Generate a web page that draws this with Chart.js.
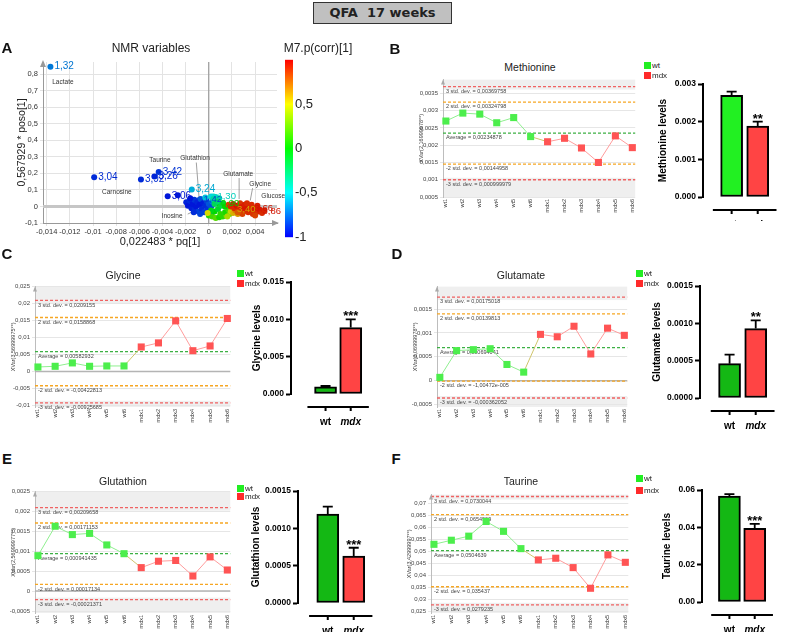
<!DOCTYPE html>
<html>
<head>
<meta charset="utf-8">
<script src="https://cdn.jsdelivr.net/npm/chart.js@4.4.0/dist/chart.umd.min.js"></script>
<style>
  html, body { margin: 0; padding: 0; background: #fff; }
  #page { position: relative; width: 789px; height: 632px; overflow: hidden; background: #fff;
          font-family: "Liberation Sans", Arial, sans-serif; color: #222; }
  #page canvas { position: absolute; }
  .txt { position: absolute; white-space: pre; line-height: 1; }
  #headline { position: absolute; left: 313px; top: 2px; width: 139px; height: 22px; box-sizing: border-box;
              background: #c0c0c0; border: 1.5px solid #333; font: bold 13px "DejaVu Sans", Verdana, sans-serif;
              color: #222; text-align: center; line-height: 19px; white-space: pre; }
  .sq { position: absolute; width: 7px; height: 7px; }
</style>
</head>
<body>
<div id="page"><div id="headline">QFA  17 weeks</div></div>
<script>
// ---- data ----
const samples = ["wt1", "wt2", "wt3", "wt4", "wt5", "wt6", "mdx1", "mdx2", "mdx3", "mdx4", "mdx5", "mdx6"];
const sampleGroups = ["wt", "wt", "wt", "wt", "wt", "wt", "mdx", "mdx", "mdx", "mdx", "mdx", "mdx"];
const groups = ["wt", "mdx"];
const limitNames = ["3 std. dev.", "2 std. dev.", "Average", "-2 std. dev.", "-3 std. dev."];

const methionineValues = [0.0027, 0.00293, 0.0029, 0.00265, 0.0028, 0.00225, 0.0021, 0.0022, 0.00192, 0.0015, 0.00227, 0.00193];
const methionineLimits = [0.00369758, 0.00324798, 0.00234878, 0.00144958, 0.000999979];
const methionineMeans = [0.0027, 0.00188];
const methionineSem = [0.0001, 0.00012];

const glycineValues = [0.0013, 0.0015, 0.0025, 0.0015, 0.0016, 0.0016, 0.0072, 0.0084, 0.0149, 0.0061, 0.0075, 0.0156];
const glycineLimits = [0.0209155, 0.0158868, 0.00582932, -0.00422813, -0.00925685];
const glycineMeans = [0.00095, 0.0089];
const glycineSem = [0.00012, 0.0011];

const glutamateValues = [0.00007, 0.00063, 0.00065, 0.00067, 0.00034, 0.00018, 0.00097, 0.00092, 0.00114, 0.00056, 0.0011, 0.00095];
const glutamateLimits = [0.00175018, 0.00139813, 0.000694041, -0.0000100472, -0.000362052];
const glutamateMeans = [0.00046, 0.00093];
const glutamateSem = [0.00012, 0.00011];

const glutathionValues = [0.00089, 0.00163, 0.00142, 0.00145, 0.00116, 0.00094, 0.00059, 0.00075, 0.00077, 0.00038, 0.00086, 0.00053];
const glutathionLimits = [0.00209658, 0.00171153, 0.000941435, 0.00017134, -0.00021371];
const glutathionMeans = [0.00119, 0.00063];
const glutathionSem = [0.0001, 0.00011];

const taurineValues = [0.0531, 0.0548, 0.0565, 0.0626, 0.0585, 0.0513, 0.0466, 0.0473, 0.0434, 0.0348, 0.0487, 0.0456];
const taurineLimits = [0.0730044, 0.0654909, 0.0504639, 0.035437, 0.0279235];
const taurineMeans = [0.0567, 0.0395];
const taurineSem = [0.0011, 0.0024];

// NMR loading plot: labelled shifts
const shiftLabels = ["1,32", "3,04", "3,92", "3,26", "3,42", "3,06", "3,24", "1,42", "1,30", "0,90", "3,40", "3,66", "3,86"];
const shiftX = [-0.01368, -0.0099, -0.00586, -0.0047, -0.00433, -0.00355, -0.00147, -0.0008, 0.0004, 0.0007, 0.0021, 0.0036, 0.0043];
const shiftY = [0.846, 0.177, 0.163, 0.181, 0.208, 0.062, 0.103, 0.04, 0.06, 0.02, -0.02, -0.01, -0.03];
const shiftCorr = [-0.72, -0.9, -0.9, -0.92, -0.88, -0.95, -0.6, -0.85, -0.45, 0.0, 0.6, 0.95, 0.95];
// remaining variables of the cluster: [x, y, corr]
const clusterPoints = [
  [-0.00268, 0.068, -0.95], [-0.00195, 0.025, -0.92], [-0.0018, 0.005, -0.95], [-0.00165, 0.035, -0.9],
  [-0.0015, -0.01, -0.93], [-0.0014, 0.015, -0.95], [-0.00125, 0.04, -0.88], [-0.0012, -0.02, -0.9],
  [-0.0011, 0.0, -0.95], [-0.001, 0.025, -0.92], [-0.0009, -0.03, -0.85], [-0.0008, 0.01, -0.95],
  [-0.0007, 0.045, -0.8], [-0.0006, -0.015, -0.9], [-0.0005, 0.02, -0.93], [-0.0004, -0.035, -0.85],
  [-0.0003, 0.005, -0.9], [-0.0002, 0.035, -0.85], [-0.0001, -0.02, -0.88], [0.0, 0.015, -0.8],
  [0.0001, -0.04, -0.75], [0.0002, 0.0, -0.82], [0.0003, 0.03, -0.7], [-0.0016, 0.05, -0.95],
  [-0.0013, -0.035, -0.9], [-0.00075, -0.045, -0.85],
  [-0.0003, 0.055, -0.55], [0.0002, 0.06, -0.5], [0.0006, 0.058, -0.45], [0.0009, 0.05, -0.4], [0.0004, 0.045, -0.35],
  [0.0, -0.055, 0.1], [0.0003, -0.06, 0.15], [0.0006, -0.07, 0.2], [0.0009, -0.065, 0.05], [0.0012, -0.06, 0.1],
  [0.0015, -0.055, 0.2], [0.0005, -0.03, 0.0], [0.0008, -0.015, -0.1], [0.0011, 0.005, -0.15], [0.0014, -0.035, 0.05],
  [0.0017, -0.02, 0.15], [0.0005, 0.015, -0.2], [0.0008, 0.03, -0.25], [0.0012, 0.02, -0.1], [0.0018, -0.045, 0.25],
  [0.0002, -0.025, -0.05], [0.0014, 0.0, 0.0], [0.001, -0.045, 0.1],
  [-0.0001, -0.04, 0.5], [0.0019, -0.03, 0.45], [0.0021, -0.04, 0.6], [0.0023, -0.025, 0.7], [0.0025, -0.045, 0.65],
  [0.0016, -0.06, 0.4],
  [0.0017, 0.01, 0.85], [0.0019, 0.0, 0.9], [0.0021, 0.015, 0.95], [0.0022, -0.01, 0.9], [0.0024, 0.005, 0.95],
  [0.0026, -0.02, 0.92], [0.0027, 0.02, 0.88], [0.0028, -0.005, 0.95], [0.003, -0.03, 0.9], [0.0031, 0.01, 0.93],
  [0.0032, -0.015, 0.95], [0.0034, -0.035, 0.9], [0.0035, 0.0, 0.95], [0.0036, -0.02, 0.92], [0.0038, -0.045, 0.88],
  [0.0039, -0.01, 0.95], [0.0041, -0.03, 0.9], [0.0042, 0.005, 0.93], [0.0044, -0.02, 0.95], [0.0046, -0.04, 0.9],
  [0.0048, -0.025, 0.92], [0.0029, -0.045, 0.85], [0.0033, 0.02, 0.9], [0.0037, 0.01, 0.9], [0.004, -0.055, 0.85],
  [0.0025, -0.035, 0.8]
];
const noteNames = ["Lactate", "Carnosine", "Taurine", "Glutathion", "Glutamate", "Glycine", "Glucose", "Inosine"];
const noteX = [-0.0126, -0.00794, -0.00422, -0.00119, 0.00254, 0.00444, 0.00557, -0.00317];
const noteY = [0.755, 0.089, 0.283, 0.295, 0.198, 0.137, 0.065, -0.056];
// leader lines [x1, y1, x2, y2]
const noteLeaders = [
  [-0.00108, 0.266, -0.00084, 0.051], [0.00262, 0.172, 0.00262, 0.045],
  [0.00378, 0.111, 0.00358, 0.036], [-0.00182, -0.046, -0.00104, -0.02]
];

// ---- helpers ----
const FAMILY = '"Liberation Sans", Arial, sans-serif';
Chart.defaults.font.family = FAMILY;
Chart.defaults.animation = false;
Chart.defaults.responsive = false;
Chart.defaults.devicePixelRatio = 1;
const page = document.getElementById("page");

function addCanvas(left, top, width, height) {
  const c = document.createElement("canvas");
  c.width = width; c.height = height;
  c.style.left = left + "px"; c.style.top = top + "px";
  c.style.width = width + "px"; c.style.height = height + "px";
  page.appendChild(c);
  return c;
}
function addText(text, x, y, css, anchor) {
  const d = document.createElement("div");
  d.className = "txt";
  d.textContent = text;
  Object.assign(d.style, css || {});
  d.style.left = x + "px";
  d.style.top = y + "px";
  d.style.transform = anchor === "left" ? "translate(0,-50%)" : "translate(-50%,-50%)";
  page.appendChild(d);
  return d;
}
function comma(v) {
  return String(Number(v.toPrecision(10))).replace(".", ",");
}
function simcaNum(v) {
  if (v !== 0 && Math.abs(v) < 1e-4) {
    const [m, e] = v.toExponential().split("e");
    const ev = Math.abs(parseInt(e, 10));
    return m.replace(".", ",") + "e" + (e[0] === "-" ? "-" : "+") + String(ev).padStart(3, "0");
  }
  return comma(v);
}
const corrStops = [[-1, [0, 0, 255]], [-0.5, [0, 255, 255]], [0, [0, 255, 0]], [0.5, [255, 255, 0]], [1, [255, 0, 0]]];
function corrColor(c, k) {
  k = k || 1;
  let i = 0;
  while (i < corrStops.length - 2 && c > corrStops[i + 1][0]) i++;
  const [v0, a] = corrStops[i], [v1, b] = corrStops[i + 1];
  const t = Math.max(0, Math.min(1, (c - v0) / (v1 - v0)));
  const rgb = a.map((ch, j) => Math.round((ch + (b[j] - ch) * t) * k));
  return "rgb(" + rgb.join(",") + ")";
}

// ---- panel A: NMR loading plot ----
const nmrPlugin = {
  id: "nmr",
  beforeDatasetsDraw(chart) {
    const { ctx, chartArea: a, scales: { x, y } } = chart;
    ctx.save();
    ctx.strokeStyle = "#c6c6c6"; ctx.lineWidth = 3;
    ctx.beginPath(); ctx.moveTo(a.left, y.getPixelForValue(0)); ctx.lineTo(a.right, y.getPixelForValue(0)); ctx.stroke();
    ctx.strokeStyle = "#8a8a8a"; ctx.lineWidth = 1;
    ctx.beginPath(); ctx.moveTo(x.getPixelForValue(0), a.top); ctx.lineTo(x.getPixelForValue(0), a.bottom); ctx.stroke();
    ctx.fillStyle = "#999";
    ctx.beginPath(); ctx.moveTo(a.right + 2, a.bottom); ctx.lineTo(a.right - 5, a.bottom - 3); ctx.lineTo(a.right - 5, a.bottom + 3); ctx.fill();
    ctx.beginPath(); ctx.moveTo(a.left, a.top - 2); ctx.lineTo(a.left - 3, a.top + 5); ctx.lineTo(a.left + 3, a.top + 5); ctx.fill();
    ctx.strokeStyle = "#888"; ctx.lineWidth = 0.8;
    noteLeaders.forEach(l => {
      ctx.beginPath();
      ctx.moveTo(x.getPixelForValue(l[0]), y.getPixelForValue(l[1]));
      ctx.lineTo(x.getPixelForValue(l[2]), y.getPixelForValue(l[3]));
      ctx.stroke();
    });
    ctx.fillStyle = "#333"; ctx.font = "6.5px " + FAMILY; ctx.textAlign = "center"; ctx.textBaseline = "middle";
    noteNames.forEach((n, i) => ctx.fillText(n, x.getPixelForValue(noteX[i]), y.getPixelForValue(noteY[i])));
    ctx.restore();
  },
  afterDatasetsDraw(chart) {
    const { ctx, scales: { x, y } } = chart;
    ctx.save();
    ctx.textAlign = "left"; ctx.textBaseline = "middle";
    shiftLabels.forEach((s, i) => {
      ctx.font = (i < 7 ? "10px " : "9.5px ") + FAMILY;
      ctx.fillStyle = corrColor(shiftCorr[i], 0.82);
      ctx.fillText(s, x.getPixelForValue(shiftX[i]) + 4, y.getPixelForValue(shiftY[i]));
    });
    ctx.restore();
  }
};
new Chart(addCanvas(0, 52, 289, 198), {
  type: "scatter",
  data: {
    datasets: [
      { data: clusterPoints.map(p => ({ x: p[0], y: p[1] })),
        pointBackgroundColor: clusterPoints.map(p => corrColor(p[2], 0.85)),
        pointBorderWidth: 0, pointRadius: 3 },
      { data: shiftX.map((v, i) => ({ x: v, y: shiftY[i] })),
        pointBackgroundColor: shiftCorr.map(c => corrColor(c, 0.85)),
        pointBorderWidth: 0, pointRadius: 3 }
    ]
  },
  options: {
    layout: { padding: { left: 0, top: 10, right: 12, bottom: 0 } },
    plugins: { legend: { display: false }, tooltip: { enabled: false } },
    scales: {
      x: { type: "linear", min: -0.01432, max: 0.00589,
           afterFit: s => { s.height = 27; },
           ticks: { stepSize: 0.002, includeBounds: false, callback: v => comma(v), font: { size: 7.5 }, color: "#333", padding: 1, maxRotation: 0 },
           grid: { color: "#e3e3e3", tickLength: 3 }, border: { color: "#999" },
           title: { display: true, text: "0,022483 * pq[1]", font: { size: 11 }, color: "#222", padding: { top: 0, bottom: 1 } } },
      y: { min: -0.1, max: 0.8745,
           afterFit: s => { s.width = 43; },
           ticks: { stepSize: 0.1, includeBounds: false, callback: v => comma(v), font: { size: 7.5 }, color: "#333", padding: 2 },
           grid: { color: "#e3e3e3", tickLength: 3 }, border: { color: "#999" },
           title: { display: true, text: "0,567929 * poso[1]", font: { size: 10.5 }, color: "#222", padding: { top: 16, bottom: 0 } } }
    }
  },
  plugins: [nmrPlugin]
});

// colour scale
const colorbarPlugin = {
  id: "colorbar",
  beforeDraw(chart) {
    const { ctx, chartArea: a, scales: { y } } = chart;
    const g = ctx.createLinearGradient(0, y.getPixelForValue(-1), 0, y.getPixelForValue(1));
    corrStops.forEach(([v, rgb]) => g.addColorStop((v + 1) / 2, "rgb(" + rgb.join(",") + ")"));
    ctx.save(); ctx.fillStyle = g; ctx.fillRect(a.left, a.top, a.width, a.height); ctx.restore();
  }
};
new Chart(addCanvas(285, 50, 48, 197), {
  type: "scatter",
  data: { datasets: [] },
  options: {
    layout: { padding: { top: 6, bottom: 8, left: 0, right: 0 } },
    plugins: { legend: { display: false }, tooltip: { enabled: false } },
    scales: {
      x: { display: false, min: 0, max: 1 },
      y: { position: "right", min: -1, max: 1,
           afterFit: s => { s.width = 40; },
           ticks: { stepSize: 0.5, callback: v => (v < 1 ? comma(v) : null), font: { size: 13 }, color: "#222", padding: 2 },
           grid: { display: false, drawTicks: false }, border: { display: false } }
    }
  },
  plugins: [colorbarPlugin]
});

// ---- control charts ----
const limitColors = ["#f06262", "#f6a623", "#3cb043", "#f6a623", "#f06262"];
const controlPlugin = {
  id: "control",
  beforeDraw(chart, args, o) {
    const { ctx, chartArea: a, scales: { y } } = chart;
    const yTop = y.getPixelForValue(o.limits[0]) + 3;
    const yBot = y.getPixelForValue(o.limits[4]) - 2;
    ctx.save();
    ctx.fillStyle = "#efefef";
    ctx.fillRect(a.left, a.top, a.width, Math.max(0, yTop - a.top));
    ctx.fillRect(a.left, yBot, a.width, Math.max(0, a.bottom - yBot));
    ctx.restore();
  },
  beforeDatasetsDraw(chart, args, o) {
    const { ctx, chartArea: a, scales: { y } } = chart;
    ctx.save();
    if (y.min < 0 && y.max > 0) {
      ctx.strokeStyle = "#b4b4b4"; ctx.lineWidth = 1.5;
      ctx.beginPath(); ctx.moveTo(a.left, y.getPixelForValue(0)); ctx.lineTo(a.right, y.getPixelForValue(0)); ctx.stroke();
    }
    ctx.lineWidth = 1.3; ctx.setLineDash([3, 2]);
    o.limits.forEach((v, i) => {
      const py = y.getPixelForValue(v);
      ctx.strokeStyle = limitColors[i];
      ctx.beginPath(); ctx.moveTo(a.left, py); ctx.lineTo(a.right, py); ctx.stroke();
    });
    ctx.setLineDash([]);
    ctx.fillStyle = "#444"; ctx.font = "5.5px " + FAMILY; ctx.textAlign = "left"; ctx.textBaseline = "top";
    o.limits.forEach((v, i) => {
      ctx.fillText(limitNames[i] + " = " + simcaNum(v), a.left + 3, y.getPixelForValue(v) + 2);
    });
    ctx.fillStyle = "#aaa";
    ctx.beginPath(); ctx.moveTo(a.left, a.top); ctx.lineTo(a.left - 2, a.top + 5); ctx.lineTo(a.left + 2, a.top + 5); ctx.fill();
    ctx.restore();
  }
};
function controlChart(area, values, limits, yMin, yMax, step, yTitle) {
  const padL = 40, padT = 4, padR = 3, padB = 22;
  const canvas = addCanvas(area.l - padL, area.t - padT, area.r - area.l + padL + padR, area.b - area.t + padT + padB);
  new Chart(canvas, {
    type: "line",
    data: {
      datasets: [{
        data: values.map((v, i) => ({ x: i, y: v })),
        borderWidth: 1, tension: 0, clip: 8,
        pointStyle: "rect", pointRadius: 5, pointBorderWidth: 0,
        pointBackgroundColor: sampleGroups.map(g => (g === "wt" ? "#4cee4c" : "#ff5454")),
        segment: {
          borderColor: c => {
            const g0 = sampleGroups[c.p0DataIndex], g1 = sampleGroups[c.p1DataIndex];
            return g0 !== g1 ? "#cfc46c" : (g0 === "wt" ? "#8fef8f" : "#ff9c9c");
          }
        }
      }]
    },
    options: {
      layout: { padding: { left: 0, top: padT, right: padR, bottom: 0 } },
      plugins: { legend: { display: false }, tooltip: { enabled: false }, control: { limits: limits } },
      scales: {
        x: { type: "linear", min: -0.17, max: 11.17,
             afterBuildTicks: s => { s.ticks = samples.map((n, i) => ({ value: i })); },
             afterFit: s => { s.height = padB; },
             ticks: { callback: v => samples[v], autoSkip: false, minRotation: 90, maxRotation: 90, font: { size: 5.5 }, color: "#444", padding: 2 },
             grid: { display: false, drawTicks: false }, border: { display: false } },
        y: { min: yMin, max: yMax,
             afterFit: s => { s.width = padL; },
             ticks: { stepSize: step, includeBounds: false, callback: v => comma(v), font: { size: 6 }, color: "#444", padding: 2 },
             grid: { color: "#e6e6e6", tickLength: 3 }, border: { color: "#bdbdbd" },
             title: { display: true, text: yTitle, font: { size: 5.5 }, color: "#444", padding: { top: 15, bottom: 0 } } }
      }
    },
    plugins: [controlPlugin]
  });
}

// ---- bar charts ----
const barPlugin = {
  id: "barExtras",
  afterDatasetsDraw(chart, args, o) {
    const { ctx, chartArea: a, scales: { x, y } } = chart;
    ctx.save();
    ctx.strokeStyle = "#000"; ctx.fillStyle = "#000"; ctx.lineWidth = 1.8;
    o.means.forEach((m, i) => {
      const px = x.getPixelForValue(i + 1);
      const y0 = y.getPixelForValue(m), y1 = y.getPixelForValue(m + o.sems[i]);
      ctx.beginPath(); ctx.moveTo(px, y0); ctx.lineTo(px, y1); ctx.moveTo(px - 5, y1); ctx.lineTo(px + 5, y1); ctx.stroke();
      if (o.sig[i]) {
        ctx.font = "bold 13px " + FAMILY; ctx.textAlign = "center"; ctx.textBaseline = "alphabetic";
        ctx.fillText(o.sig[i], px, y1 + 1);
      }
    });
    const ly = a.bottom + 13;
    ctx.lineWidth = 2;
    ctx.beginPath();
    ctx.moveTo(x.getPixelForValue(0.28), ly); ctx.lineTo(x.getPixelForValue(2.72), ly);
    groups.forEach((g, i) => { const px = x.getPixelForValue(i + 1); ctx.moveTo(px, ly); ctx.lineTo(px, ly + 4); });
    ctx.stroke();
    ctx.restore();
  }
};
function barChart(p, means, sems, sig, yMax, step, decimals, yTitle, wtColor) {
  const left = p.titleX - 6, top = p.top - 8;
  const padL = p.axisX - left;
  const xMin = 1 - (p.c1 - p.axisX) / p.s, xMax = 2.75;
  const right = p.axisX + (xMax - xMin) * p.s;
  const padB = p.padB || 34;
  new Chart(addCanvas(left, top, Math.round(right - left), Math.round(p.bottom + padB - top)), {
    type: "bar",
    data: {
      datasets: [{
        data: means.map((m, i) => ({ x: i + 1, y: m })),
        backgroundColor: [wtColor, "#ff4444"],
        borderColor: "#000", borderWidth: 2, borderSkipped: false, barThickness: 22
      }]
    },
    options: {
      layout: { padding: { left: 0, top: 8, right: 0, bottom: 0 } },
      plugins: { legend: { display: false }, tooltip: { enabled: false },
                 barExtras: { means: means, sems: sems, sig: sig } },
      scales: {
        x: { type: "linear", min: xMin, max: xMax, offset: false,
             afterBuildTicks: s => { s.ticks = groups.map((g, i) => ({ value: i + 1 })); },
             afterFit: s => { s.height = padB; },
             ticks: { callback: v => groups[v - 1], color: "#000", padding: 22, maxRotation: 0,
                      font: c => ({ size: 10, weight: "bold", style: c.index === 1 ? "italic" : "normal" }) },
             grid: { display: false, drawTicks: false }, border: { display: false } },
        y: { min: 0, max: yMax,
             afterFit: s => { s.width = padL; },
             ticks: { stepSize: step, callback: v => v.toFixed(decimals), font: { size: 8.5, weight: "bold" }, color: "#000", padding: 2 },
             grid: { drawOnChartArea: false, drawTicks: true, tickLength: 5, tickColor: "#000", tickWidth: 2 },
             border: { color: "#000", width: 2 },
             title: { display: true, text: yTitle, font: { size: 10, weight: "bold" }, color: "#000", padding: { top: 0, bottom: 0 } } }
      }
    },
    plugins: [barPlugin]
  });
}

// ---- panels B-F ----
controlChart({ l: 443, t: 78, r: 638, b: 197 }, methionineValues, methionineLimits, 0.0005, 0.0039, 0.0005, "XVar(2,16999978**)");
controlChart({ l: 35, t: 285, r: 233, b: 407 }, glycineValues, glycineLimits, -0.0105, 0.025, 0.005, "XVar(3,56999975**)");
controlChart({ l: 437, t: 285, r: 630, b: 407 }, glutamateValues, glutamateLimits, -0.00055, 0.00197, 0.0005, "XVar(2,06999978**)");
controlChart({ l: 35, t: 490, r: 233, b: 613 }, glutathionValues, glutathionLimits, -0.00055, 0.0025, 0.0005, "XVar(2,56999977**)");
controlChart({ l: 431, t: 493, r: 631, b: 613 }, taurineValues, taurineLimits, 0.0245, 0.0738, 0.005, "XVar(3,42999997**)");

barChart({ axisX: 703, top: 84, bottom: 197, c1: 736.5, s: 30.5, titleX: 663, padB: 24 }, methionineMeans, methionineSem, ["", "**"], 0.003, 0.001, 3, "Methionine levels", "#22f022");
barChart({ axisX: 291, top: 282, bottom: 394, c1: 331.5, s: 29.5, titleX: 257 }, glycineMeans, glycineSem, ["", "***"], 0.015, 0.005, 3, "Glycine levels", "#14b814");
barChart({ axisX: 700, top: 286, bottom: 398, c1: 734.5, s: 30.5, titleX: 657 }, glutamateMeans, glutamateSem, ["", "**"], 0.0015, 0.0005, 4, "Glutamate levels", "#14b814");
barChart({ axisX: 298, top: 491, bottom: 603, c1: 333, s: 30.5, titleX: 256 }, glutathionMeans, glutathionSem, ["", "***"], 0.0015, 0.0005, 4, "Glutathion levels", "#14b814");
barChart({ axisX: 702, top: 490, bottom: 602, c1: 734.5, s: 30, titleX: 667 }, taurineMeans, taurineSem, ["", "***"], 0.06, 0.02, 2, "Taurine levels", "#14b814");

// ---- text: letters, titles, legends ----
const letterCss = { fontWeight: "bold", fontSize: "15px", color: "#111" };
[["A", 7, 47], ["B", 395, 48], ["C", 7, 253], ["D", 397, 253], ["E", 7, 458], ["F", 396, 458]]
  .forEach(([t, x, y]) => addText(t, x, y, letterCss));
addText("NMR variables", 151, 48, { fontSize: "12px", color: "#222" });
addText("M7.p(corr)[1]", 318, 48, { fontSize: "12px", color: "#222" });
const chartTitles = [["Methionine", 530, 67], ["Glycine", 123, 275], ["Glutamate", 521, 275], ["Glutathion", 123, 481], ["Taurine", 521, 481]];
chartTitles.forEach(([t, x, y]) => addText(t, x, y, { fontSize: "10.5px", color: "#222" }));

const legendColors = ["#22ee22", "#ff2a2a"];
function addLegend(x, rows) {
  groups.forEach((g, i) => {
    const sq = document.createElement("div");
    sq.className = "sq";
    sq.style.left = x + "px"; sq.style.top = rows[i] + "px"; sq.style.background = legendColors[i];
    page.appendChild(sq);
    addText(g, x + 8, rows[i] + 3.5, { fontSize: "8px", color: "#222" }, "left");
  });
}
addLegend(644, [62, 72]);
addLegend(237, [270, 280]);
addLegend(636, [270, 280]);
addLegend(237, [485, 493]);
addLegend(636, [475, 487]);
</script>
</body>
</html>
